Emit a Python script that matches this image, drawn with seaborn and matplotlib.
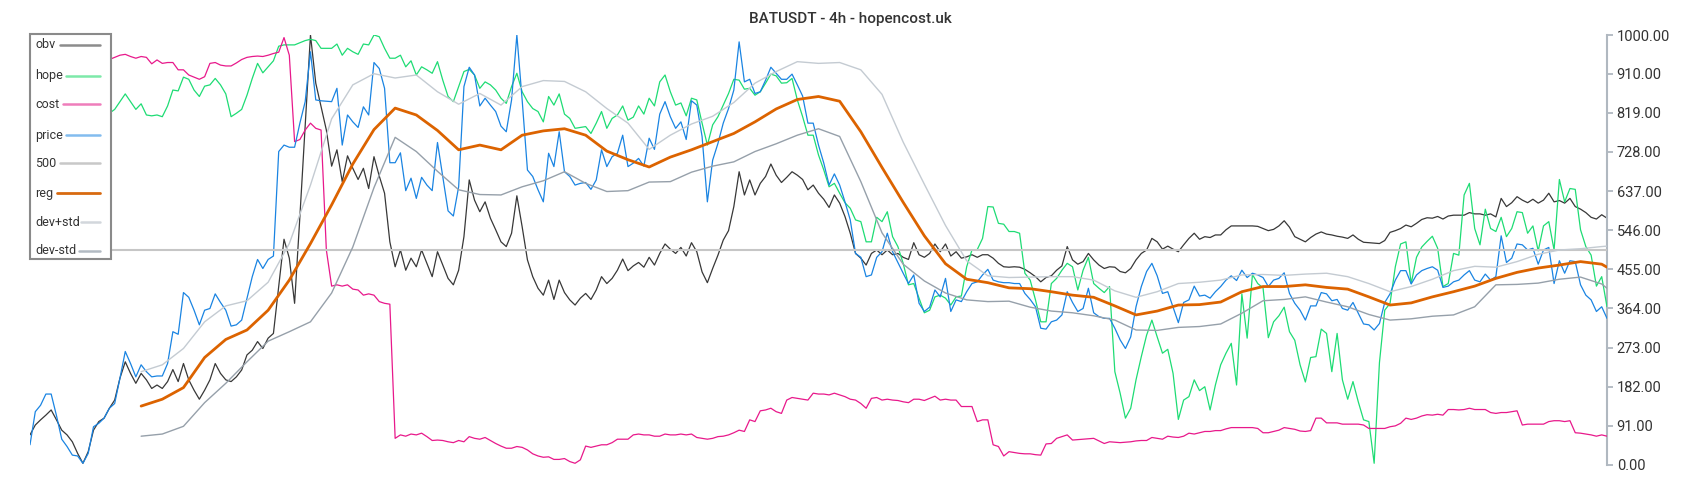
import numpy as np
import matplotlib
matplotlib.use("Agg")
import matplotlib.pyplot as plt
import seaborn as sns
from matplotlib.patches import Rectangle
from matplotlib.lines import Line2D
from matplotlib.ticker import FormatStrFormatter

title = "BATUSDT - 4h - hopencost.uk"

price = [
    47, 124, 139, 165, 165, 115, 60, 43, 23, 21,
    4, 27, 89, 97, 109, 132, 143, 202, 264, 236,
    205, 233, 217, 205, 207, 207, 236, 310, 304, 401,
    390, 360, 326, 360, 364, 398, 378, 360,
    323, 326, 337, 388, 438, 478, 457, 478, 486, 729,
    744, 739, 739, 795, 845, 961, 849, 847, 846, 845,
    876, 744, 814, 798, 785, 833, 814, 936, 922, 876,
    703, 703, 726, 638, 667, 620,
    669, 651, 638, 750, 671, 591, 579, 647, 880, 925,
    907, 835, 853, 837, 822, 788, 775, 849, 1000, 849,
    686, 671, 640, 612, 725, 694, 775, 682, 671, 651,
    655, 657, 641, 663, 733, 694, 717, 725,
    767, 694, 702, 713, 695, 760, 734, 816, 845, 810,
    783, 798, 757, 847, 837, 764, 612, 709, 748, 795,
    829, 872, 984, 891, 897, 864, 868, 895, 925, 911,
    897, 897, 909, 884, 858, 795, 795, 744, 702,
    651, 677, 651, 612, 570, 492, 483, 438, 442, 483,
    496, 539, 496, 471, 446, 422, 442, 376, 357, 367,
    407, 391, 434, 357, 384, 380, 403, 422, 426, 442,
    455, 430, 426, 424, 424, 422, 422, 399,
    385, 368, 318, 316, 333, 337, 349, 403, 378, 357,
    364, 411, 354, 345, 341, 341, 318, 291, 271, 298,
    368, 415, 450, 469, 440, 399, 403, 367, 331, 378,
    384, 416, 393, 395, 388, 403,
    415, 430, 440, 429, 453, 436, 446, 442, 436, 415,
    430, 434, 447, 399, 376, 360, 337, 370, 370, 401,
    398, 382, 385, 364, 360, 378, 353, 328, 326, 314,
    329, 378, 398, 430, 452, 452, 421, 442, 452, 457,
    461, 453, 413, 416, 426, 430, 442, 452, 430, 426,
    444, 430, 438, 533, 471, 481, 514, 512, 500, 504,
    467, 500, 506, 422, 475, 446, 475, 473, 419, 395,
    384, 357, 368, 341]

obv = [
    70, 93, 105, 116, 128, 105, 81, 70, 54, 27,
    4, 31, 81, 101, 109, 132, 151, 202, 240, 213,
    190, 213, 198, 178, 186, 178, 194, 222, 194, 236,
    198, 174, 153, 174, 198, 236, 213, 198,
    194, 205, 221, 256, 267, 287, 271, 295, 306, 416,
    525, 481, 376, 578, 787, 1000, 888, 833, 779, 695,
    733, 659, 719, 690, 664, 690, 643, 717, 672, 632,
    519, 461, 500, 453, 481, 461,
    500, 469, 438, 496, 465, 434, 419, 453, 531, 663,
    616, 589, 612, 574, 547, 519, 508, 539, 626, 554,
    477, 438, 411, 395, 430, 385, 430, 401, 384, 372,
    388, 399, 385, 407, 438, 422, 434, 453,
    479, 452, 463, 471, 460, 483, 465, 492, 514, 502,
    492, 506, 486, 517, 496, 449, 424, 457, 488, 523,
    545, 601, 682, 628, 663, 628, 655, 671, 700, 674,
    657, 669, 682, 674, 664, 640, 651, 632, 618,
    599, 628, 609, 578, 539, 492, 481, 465, 492, 500,
    489, 500, 489, 492, 483, 478, 517, 489, 483, 492,
    514, 496, 514, 486, 496, 481, 484, 489, 483, 489,
    489, 481, 469, 461, 460, 461, 460, 455,
    447, 438, 426, 436, 440, 453, 463, 508, 477, 467,
    473, 492, 477, 465, 457, 461, 460, 450, 447, 457,
    477, 492, 500, 527, 519, 502, 509, 502, 496, 512,
    527, 539, 525, 531, 529, 535,
    535, 547, 556, 556, 556, 556, 556, 555, 550, 545,
    548, 556, 568, 553, 531, 525, 519, 529, 537, 542,
    537, 535, 532, 530, 527, 535, 525, 518, 517, 516,
    515, 522, 541, 545, 550, 558, 554, 562, 571, 575,
    574, 578, 572, 579, 581, 581, 581, 587, 584, 584,
    581, 584, 577, 620, 601, 610, 624, 616, 610, 618,
    609, 616, 632, 612, 615, 609, 620, 601, 595, 587,
    576, 572, 582, 574]

hope = [
    830, 845, 860, 850, 832, 815, 812, 820, 810, 815,
    835, 850, 838, 825, 818,
    818, 827, 845, 863, 845, 827, 840, 814, 812, 814,
    810, 835, 872, 870, 902, 897, 872, 857, 881, 884,
    899, 884, 863,
    810, 818, 827, 860, 899, 934, 912, 926, 940, 974,
    977, 977, 977, 982, 987, 990, 987, 969, 969, 969,
    979, 953, 969, 961, 955, 979, 977, 1000, 996, 969,
    946, 946, 953, 926, 940, 907,
    926, 919, 911, 938, 895, 857, 845, 880, 915, 920,
    907, 876, 891, 884, 872, 853, 841, 880, 911, 868,
    845, 829, 822, 798, 857, 837, 863, 816, 806, 783,
    785, 787, 771, 795, 822, 783, 806, 814,
    835, 802, 809, 835, 816, 853, 835, 891, 907, 868,
    837, 842, 812, 853, 849, 795, 744, 791, 810, 837,
    864, 897, 895, 874, 876, 860, 868, 888, 909, 905,
    888, 889, 899, 849, 810, 767, 767, 721, 686,
    647, 655, 632, 610, 597, 570, 566, 519, 519, 576,
    566, 589, 531, 508, 469, 419, 422, 388, 354, 360,
    391, 395, 388, 372, 391, 393, 461, 500, 501, 527,
    601, 600, 562, 560, 543, 543, 539, 446,
    430, 384, 333, 333, 422, 434, 453, 469, 461, 407,
    453, 483, 422, 411, 401, 415, 217, 167, 109, 132,
    198, 252, 302, 337, 298, 260, 269, 213, 106, 151,
    159, 198, 173, 182, 128, 186,
    233, 260, 283, 186, 398, 295, 443, 422, 412, 296,
    333, 347, 367, 310, 290, 233, 193, 250, 252, 316,
    306, 217, 306, 198, 153, 194, 147, 105, 101, 4,
    238, 360, 376, 461, 514, 519, 422, 483, 507, 520,
    532, 504, 415, 422, 492, 488, 628, 655, 550, 512,
    595, 550, 543, 576, 531, 550, 589, 587, 539, 556,
    498, 556, 566, 500, 664, 612, 643, 641, 547, 508,
    488, 416, 438, 368]

cost = [
    965, 975, 985, 995, 1000, 990, 975, 962, 955, 950,
    948, 945, 946, 944, 942,
    943, 948, 953, 955, 950, 946, 950, 948, 933, 942,
    934, 936, 936, 919, 919, 907, 902, 897, 903, 934,
    936, 930, 928,
    928, 935, 943, 948, 950, 951, 950, 953, 957, 960,
    994, 953, 752, 757, 779, 795, 783, 779, 500, 416,
    419, 416, 419, 409, 407, 395, 398, 395, 380, 376,
    374, 62, 70, 67, 72, 70,
    74, 66, 57, 58, 57, 54, 52, 57, 54, 66,
    62, 60, 64, 57, 50, 44, 39, 39, 43, 41,
    35, 26, 21, 18, 19, 13, 13, 15, 8, 4,
    12, 44, 41, 44, 47, 47, 52, 60,
    60, 60, 70, 72, 70, 70, 67, 67, 72, 70,
    70, 72, 70, 72, 64, 62, 60, 62, 66, 67,
    70, 75, 81, 78, 105, 101, 126, 128, 132, 124,
    120, 151, 157, 155, 153, 151, 167, 165, 165,
    163, 167, 163, 159, 153, 151, 143, 132, 155, 157,
    151, 153, 151, 150, 147, 145, 153, 153, 150, 155,
    160, 151, 153, 151, 151, 136, 136, 136, 101, 105,
    105, 47, 43, 21, 31, 29, 27, 26,
    26, 24, 23, 49, 50, 62, 66, 70, 58, 59,
    60, 61, 62, 56, 50, 54, 53, 52, 53, 54,
    56, 57, 57, 64, 62, 60, 67, 65, 64, 67,
    74, 72, 75, 78, 78, 80,
    80, 84, 87, 87, 87, 87, 87, 85, 75, 75,
    78, 81, 87, 85, 83, 79, 78, 80, 109, 109,
    98, 98, 98, 95, 95, 95, 95, 93, 85, 85,
    85, 85, 89, 91, 97, 109, 106, 109, 114, 117,
    116, 118, 116, 129, 129, 128, 129, 132, 129, 129,
    129, 122, 120, 122, 122, 124, 126, 93, 95, 95,
    95, 95, 101, 103, 103, 101, 103, 75, 74, 72,
    70, 67, 70, 67]

level_500 = 500

# smooth band series, read every 4th bar from bar 21 plus the last bar
smooth_steps = list(range(21, 298, 4)) + [298]
reg = [137, 153, 180, 250, 292, 314, 360, 430, 515, 605,
       700, 780, 830, 814, 778, 733, 744, 733, 767, 777,
       782, 767, 730, 710, 693, 716, 733, 752, 771, 798,
       828, 850, 857, 846, 775, 692, 611, 533, 468, 432,
       424, 412, 410, 403, 395, 390, 370, 349, 358, 372,
       373, 379, 403, 415, 415, 419, 413, 409, 391, 372,
       377, 391, 403, 416, 434, 448, 458, 465, 473, 467, 460]
dev_plus = [217, 233, 271, 333, 370, 382, 425, 515, 651, 805,
            884, 910, 900, 907, 868, 839, 864, 837, 880, 894,
            892, 868, 829, 795, 734, 767, 793, 811, 843, 888,
            915, 938, 934, 936, 919, 862, 751, 653, 557, 475,
            440, 436, 437, 438, 438, 430, 405, 390, 403, 422,
            425, 430, 442, 443, 441, 444, 446, 438, 422, 403,
            415, 432, 452, 462, 460, 473, 490, 500, 503, 508, 509]
dev_minus = [67, 72, 90, 145, 190, 240, 288, 310, 333, 400,
             507, 645, 762, 729, 683, 640, 629, 628, 647, 661,
             682, 655, 636, 638, 658, 659, 681, 695, 705, 729,
             747, 767, 782, 764, 659, 540, 467, 428, 400, 384,
             380, 381, 367, 358, 354, 347, 337, 314, 313, 320,
             322, 328, 353, 382, 385, 391, 379, 368, 350, 337,
             340, 346, 349, 368, 419, 420, 423, 432, 437, 421, 411]

yticks = [0, 91, 182, 273, 364, 455, 546, 637, 728, 819, 910, 1000]

legend_labels = ["obv", "hope", "cost", "price", "500", "reg", "dev+std", "dev-std"]
line_colors = {"obv": "#383838", "hope": "#1edc74", "cost": "#e8198b", "price": "#1a84e2",
               "500": "#c6c6c6", "reg": "#dc6300", "dev+std": "#c4cbd2", "dev-std": "#96a0aa"}
legend_colors = {"obv": "#8c8c8c", "hope": "#7de9a9", "cost": "#ef7dbb", "price": "#82bcef",
                 "500": "#c8c8c8", "reg": "#d86a10", "dev+std": "#d2d7dc", "dev-std": "#b2bac2"}

sns.set_style("white")
plt.rcParams["font.family"] = ["Roboto", "DejaVu Sans"]

W, H = 1700, 500
fig = plt.figure(figsize=(W / 100, H / 100), dpi=100)
ax = fig.add_axes([30 / W, 1 - 465 / H, 1577 / W, 430 / H])

bars = np.arange(len(price))
smooth_x = np.array(smooth_steps)

sns.lineplot(x=bars, y=obv, ax=ax, color=line_colors["obv"], linewidth=0.9, zorder=2)
sns.lineplot(x=bars, y=hope, ax=ax, color=line_colors["hope"], linewidth=0.9, zorder=3)
sns.lineplot(x=bars, y=cost, ax=ax, color=line_colors["cost"], linewidth=0.9, zorder=4)
sns.lineplot(x=bars, y=price, ax=ax, color=line_colors["price"], linewidth=0.9, zorder=5)
ax.axhline(level_500, color=line_colors["500"], linewidth=1.5, zorder=6)
sns.lineplot(x=smooth_x, y=reg, ax=ax, color=line_colors["reg"], linewidth=2.0, zorder=7,
             solid_joinstyle="round", solid_capstyle="round")
sns.lineplot(x=smooth_x, y=dev_plus, ax=ax, color=line_colors["dev+std"], linewidth=1.0, zorder=8,
             solid_joinstyle="round")
sns.lineplot(x=smooth_x, y=dev_minus, ax=ax, color=line_colors["dev-std"], linewidth=1.0, zorder=8,
             solid_joinstyle="round")

ax.set_xlim(0, len(price) - 1)
ax.set_ylim(0, 1000)
ax.set_xticks([])
ax.set_xlabel("")
ax.set_ylabel("")
ax.yaxis.tick_right()
ax.set_yticks(yticks)
ax.yaxis.set_major_formatter(FormatStrFormatter("%.2f"))
ax.tick_params(axis="y", direction="out", length=4, width=1.3, color="#b0b8c0",
               labelsize=10.5, labelcolor="#333333", pad=3)
for s in ["left", "top", "bottom"]:
    ax.spines[s].set_visible(False)
ax.spines["right"].set_color("#b0b8c0")
ax.spines["right"].set_linewidth(1.5)
ax.set_facecolor("white")

fig.text(0.5, 1 - 19.5 / H, title, ha="center", va="center", fontsize=11,
         fontweight="medium", color="#333333")

# legend box (label left, line sample right)
fig.add_artist(Rectangle((30 / W, 1 - 259 / H), 81 / W, 225 / H, transform=fig.transFigure,
                         facecolor="white", edgecolor="#8a8a8a", linewidth=1.5, zorder=10))
row_y = [45, 76, 104, 135, 163, 193, 222, 251]
line_start = [60, 66, 63, 66, 60, 57, 81, 79]
for lab, ry, ls in zip(legend_labels, row_y, line_start):
    fig.text(35 / W, 1 - ry / H, lab, ha="left", va="center", fontsize=9,
             color="#333333", zorder=11)
    fig.add_artist(Line2D([ls / W, 100 / W], [1 - ry / H, 1 - ry / H], transform=fig.transFigure,
                          color=legend_colors[lab], linewidth=2.0 if lab == "reg" else 1.8,
                          zorder=11))

fig.savefig("out.png", dpi=100, facecolor="white")
